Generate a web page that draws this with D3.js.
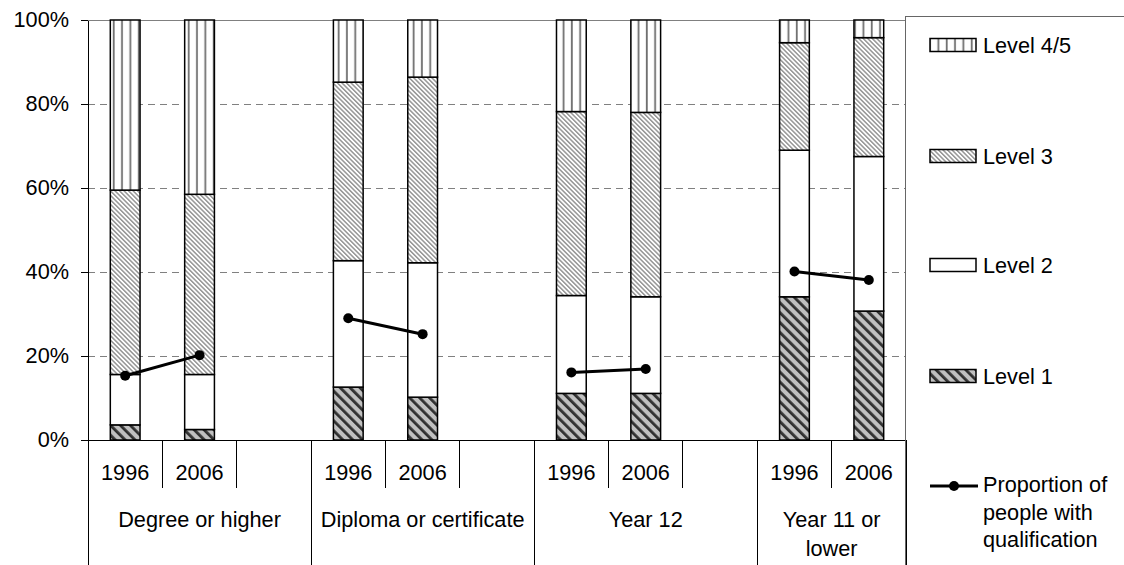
<!DOCTYPE html>
<html>
<head>
  <meta charset="utf-8">
  <title>Qualification by literacy level</title>
  <script src="https://cdn.jsdelivr.net/npm/d3@7"></script>
  <style>
    body { margin: 0; background: #fff; }
    text {
      font-family: "Liberation Sans", Arial, sans-serif;
      font-size: 21.7px;
      fill: #000;
    }
    .axis path, .axis line { stroke: #000; shape-rendering: crispEdges; }
    .grid line { stroke: #808080; stroke-dasharray: 7,5; shape-rendering: crispEdges; }
  </style>
</head>
<body>
  <svg width="1124" height="565"></svg>

  <script>
    // data (percent)
    var categories = ["Degree or higher", "Diploma or certificate", "Year 12", "Year 11 or lower"];
    var years = ["1996", "2006"];
    var level1 = [3.6, 2.5, 12.6, 10.2, 11.1, 11.1, 34.1, 30.7];
    var level2 = [12.0, 13.1, 30.1, 32.0, 23.3, 23.0, 34.9, 36.8];
    var level3 = [43.9, 42.9, 42.5, 44.2, 43.8, 43.9, 25.6, 28.3];
    var level45 = [40.5, 41.5, 14.8, 13.6, 21.8, 22.0, 5.4, 4.2];
    var proportion = [15.3, 20.2, 29.0, 25.2, 16.1, 16.9, 40.1, 38.1];
    var yTicks = [0, 20, 40, 60, 80, 100];

    var levels = [
      { name: "Level 1", values: level1, fill: "url(#lvl1)" },
      { name: "Level 2", values: level2, fill: "#fff" },
      { name: "Level 3", values: level3, fill: "url(#lvl3)" },
      { name: "Level 4/5", values: level45, fill: "url(#lvl45)" }
    ];

    var plot = { left: 88, right: 906, top: 20, bottom: 440 };

    var svg = d3.select("svg");

    // hatch patterns
    var defs = svg.append("defs");
    var p1 = defs.append("pattern").attr("id", "lvl1")
      .attr("patternUnits", "userSpaceOnUse").attr("width", 7).attr("height", 7)
      .attr("patternTransform", "rotate(-45)");
    p1.append("rect").attr("width", 7).attr("height", 7).attr("fill", "#c0c0c0");
    p1.append("rect").attr("width", 2.8).attr("height", 7).attr("fill", "#303030");

    var p3 = defs.append("pattern").attr("id", "lvl3")
      .attr("patternUnits", "userSpaceOnUse").attr("width", 3.2).attr("height", 3.2)
      .attr("patternTransform", "rotate(-45)");
    p3.append("rect").attr("width", 3.2).attr("height", 3.2).attr("fill", "#fff");
    p3.append("rect").attr("width", 1.5).attr("height", 3.2).attr("fill", "#959595");

    var p45 = defs.append("pattern").attr("id", "lvl45")
      .attr("patternUnits", "userSpaceOnUse").attr("width", 8.33).attr("height", 10);
    p45.append("rect").attr("width", 8.33).attr("height", 10).attr("fill", "#fff");
    p45.append("rect").attr("x", 4.5).attr("width", 1.8).attr("height", 10).attr("fill", "#707070");

    // one slot per bar, plus an empty slot between categories
    var slots = [];
    categories.forEach(function(c, i) {
      years.forEach(function(yr) { slots.push(i + "-" + yr); });
      if (i < categories.length - 1) slots.push(i + "-gap");
    });

    var x = d3.scaleBand()
      .domain(slots)
      .range([plot.left, plot.right])
      .paddingInner(0.6)
      .paddingOuter(0.3);

    var y = d3.scaleLinear()
      .domain([0, 100])
      .range([plot.bottom, plot.top]);

    var step = x.step();
    var slotStart = function(s) { return x(s) - (step - x.bandwidth()) / 2; };

    // build bar records
    var bars = [];
    categories.forEach(function(c, i) {
      years.forEach(function(yr, j) {
        var k = i * 2 + j, y0 = 0;
        var segs = levels.map(function(l) {
          var s = { level: l, y0: y0, y1: y0 + l.values[k] };
          y0 += l.values[k];
          return s;
        });
        bars.push({ slot: i + "-" + yr, year: yr, segs: segs, prop: proportion[k], cat: i });
      });
    });

    // gridlines
    svg.append("g").attr("class", "grid")
      .selectAll("line")
      .data(yTicks.filter(function(t) { return t > 0 && t < 100; }))
      .enter().append("line")
      .attr("x1", plot.left).attr("x2", plot.right)
      .attr("y1", function(d) { return y(d); })
      .attr("y2", function(d) { return y(d); });

    svg.append("line")
      .attr("x1", plot.left).attr("x2", plot.right)
      .attr("y1", y(100)).attr("y2", y(100))
      .attr("stroke", "#808080").attr("shape-rendering", "crispEdges");

    // stacked bars
    var barG = svg.selectAll(".bar")
      .data(bars)
      .enter().append("g")
      .attr("class", "bar");

    barG.selectAll("rect")
      .data(function(d) { return d.segs.map(function(s) { return { slot: d.slot, s: s }; }); })
      .enter().append("rect")
      .attr("x", function(d) { return x(d.slot); })
      .attr("width", x.bandwidth())
      .attr("y", function(d) { return y(d.s.y1); })
      .attr("height", function(d) { return y(d.s.y0) - y(d.s.y1); })
      .attr("fill", function(d) { return d.s.level.fill; })
      .attr("stroke", "#000")
      .attr("stroke-width", 1.5);

    // proportion line, one segment per category
    var line = d3.line()
      .x(function(d) { return x(d.slot) + x.bandwidth() / 2; })
      .y(function(d) { return y(d.prop); });

    categories.forEach(function(c, i) {
      svg.append("path")
        .datum(bars.filter(function(b) { return b.cat === i; }))
        .attr("d", line)
        .attr("fill", "none")
        .attr("stroke", "#000")
        .attr("stroke-width", 3);
    });

    svg.selectAll(".dot")
      .data(bars)
      .enter().append("circle")
      .attr("class", "dot")
      .attr("cx", function(d) { return x(d.slot) + x.bandwidth() / 2; })
      .attr("cy", function(d) { return y(d.prop); })
      .attr("r", 5)
      .attr("fill", "#000");

    // y axis
    svg.append("g")
      .attr("class", "axis")
      .attr("transform", "translate(" + plot.left + ",0)")
      .call(d3.axisLeft(y).tickValues(yTicks).tickSize(7).tickSizeOuter(0).tickPadding(12)
        .tickFormat(function(d) { return d + "%"; }))
      .call(function(g) {
        g.selectAll("text").style("font-size", "21.7px").style("font-family", null);
      });

    // x axis: baseline, year ticks, category separators
    var xa = svg.append("g").attr("class", "axis");
    xa.append("line")
      .attr("x1", plot.left).attr("x2", plot.right)
      .attr("y1", plot.bottom).attr("y2", plot.bottom);

    xa.selectAll(".ytick")
      .data(slots.filter(function(s) { return s.indexOf("-2006") >= 0 || s.indexOf("-gap") >= 0; }))
      .enter().append("line")
      .attr("x1", slotStart).attr("x2", slotStart)
      .attr("y1", plot.bottom).attr("y2", 488);

    var catEdges = categories.map(function(c, i) { return slotStart(i + "-1996"); });
    catEdges.push(plot.right);
    xa.selectAll(".sep")
      .data(catEdges)
      .enter().append("line")
      .attr("x1", function(d) { return d; }).attr("x2", function(d) { return d; })
      .attr("y1", plot.bottom).attr("y2", 565);

    svg.selectAll(".yr")
      .data(bars)
      .enter().append("text")
      .attr("x", function(d) { return x(d.slot) + x.bandwidth() / 2; })
      .attr("y", 480)
      .attr("text-anchor", "middle")
      .text(function(d) { return d.year; });

    var catLabels = [["Degree or higher"], ["Diploma or certificate"], ["Year 12"], ["Year 11 or", "lower"]];
    categories.forEach(function(c, i) {
      var cx = i < categories.length - 1 ? catEdges[i] + 1.5 * step : (catEdges[i] + catEdges[i + 1]) / 2;
      var t = svg.append("text").attr("text-anchor", "middle").attr("y", 527);
      catLabels[i].forEach(function(s, j) {
        t.append("tspan").attr("x", cx).attr("dy", j ? 29 : 0).text(s);
      });
    });

    // legend
    var lg = svg.append("g");
    lg.append("path")
      .attr("d", "M905,565V16H1124")
      .attr("fill", "none")
      .attr("stroke", "#666")
      .attr("shape-rendering", "crispEdges");

    var legendY = [376, 265, 156, 45];
    levels.forEach(function(l, i) {
      lg.append("rect")
        .attr("x", 930).attr("y", legendY[i] - 6.5)
        .attr("width", 46).attr("height", 13)
        .attr("fill", l.fill).attr("stroke", "#000").attr("stroke-width", 1.5);
      lg.append("text")
        .attr("x", 983).attr("y", legendY[i] + 7.5)
        .text(l.name);
    });

    lg.append("line")
      .attr("x1", 930).attr("x2", 978).attr("y1", 486).attr("y2", 486)
      .attr("stroke", "#000").attr("stroke-width", 3);
    lg.append("circle").attr("cx", 954).attr("cy", 486).attr("r", 5).attr("fill", "#000");
    var pt = lg.append("text").attr("y", 492);
    ["Proportion of", "people with", "qualification"].forEach(function(s, j) {
      pt.append("tspan").attr("x", 983).attr("dy", j ? 27.5 : 0).text(s);
    });
  </script>
</body>
</html>
